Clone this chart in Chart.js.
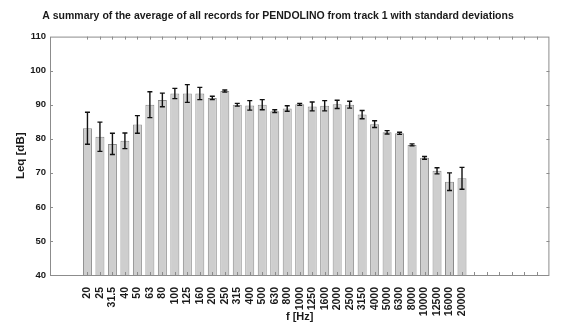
<!DOCTYPE html>
<html>
<head>
<meta charset="utf-8">
<script src="https://cdn.jsdelivr.net/npm/chart.js@4.4.1/dist/chart.umd.min.js"></script>
<style>
  html, body { margin: 0; padding: 0; background: #fff; }
  #wrap { width: 566px; height: 324px; }
</style>
</head>
<body>
<div id="wrap"><canvas id="leqChart" width="566" height="324"></canvas></div>
<script>
// Third-octave bands (Hz)
const freqLabels = ['20', '25', '31.5', '40', '50', '63', '80', '100', '125', '160', '200', '250', '315',
    '400', '500', '630', '800', '1000', '1250', '1600', '2000', '2500', '3150', '4000', '5000', '6300',
    '8000', '10000', '12500', '16000', '20000'];

// Average Leq per band (dB)
const leqMean = [83.1, 80.6, 78.5, 79.4, 84.2, 90.0, 91.4, 93.3, 93.3, 93.3, 92.0, 94.0, 90.0,
    89.8, 90.0, 88.1, 88.9, 90.1, 89.5, 89.7, 90.1, 90.0, 87.1, 84.3, 81.9, 81.6,
    78.2, 74.4, 70.6, 67.4, 68.4];

// Standard deviation per band (dB)
const leqStd = [4.7, 4.3, 3.1, 2.3, 2.6, 3.8, 2.0, 1.5, 2.6, 1.8, 0.5, 0.3, 0.4,
    1.4, 1.5, 0.4, 0.8, 0.3, 1.3, 1.5, 1.2, 1.0, 1.2, 1.0, 0.5, 0.3,
    0.3, 0.4, 0.9, 2.6, 3.2];

const yTicks = [40, 50, 60, 70, 80, 90, 100, 110];

// empty slots left and right of the bands, like the original x limits
const padLeft = 3;
const padRight = 7;

document.addEventListener('DOMContentLoaded', function() {
    const blank = n => Array(n).fill('');
    const empty = n => Array(n).fill(null);
    const labels = blank(padLeft).concat(freqLabels, blank(padRight));
    const values = empty(padLeft).concat(leqMean, empty(padRight));
    const errors = empty(padLeft).concat(leqStd, empty(padRight));
    const fontFamily = 'Liberation Sans, Arial, sans-serif';

    // frame + inward tick marks
    const boxPlugin = {
        id: 'box',
        afterDraw(chart) {
            const {ctx, chartArea: a, scales: {x, y}} = chart;
            ctx.save();
            ctx.strokeStyle = '#8c8c8c';
            ctx.lineWidth = 1;
            ctx.strokeRect(a.left + 0.5, a.top + 0.5, a.right - a.left - 1, a.bottom - a.top);
            ctx.beginPath();
            for (let i = padLeft; i < labels.length - 1; i++) {
                const px = Math.round(x.getPixelForValue(i)) + 0.5;
                ctx.moveTo(px, a.bottom); ctx.lineTo(px, a.bottom - 3);
                ctx.moveTo(px, a.top); ctx.lineTo(px, a.top + 3);
            }
            yTicks.slice(1, -1).forEach(v => {
                const py = Math.round(y.getPixelForValue(v)) + 0.5;
                ctx.moveTo(a.left, py); ctx.lineTo(a.left + 3, py);
                ctx.moveTo(a.right, py); ctx.lineTo(a.right - 3, py);
            });
            ctx.stroke();
            ctx.restore();
        }
    };

    // standard deviation whiskers
    const errorPlugin = {
        id: 'errorBars',
        afterDatasetsDraw(chart) {
            const {ctx, scales: {y}} = chart;
            const meta = chart.getDatasetMeta(0);
            ctx.save();
            ctx.strokeStyle = '#111';
            ctx.lineWidth = 1.4;
            meta.data.forEach((bar, i) => {
                if (values[i] === null) return;
                const top = y.getPixelForValue(values[i] + errors[i]);
                const bot = y.getPixelForValue(values[i] - errors[i]);
                ctx.beginPath();
                ctx.moveTo(bar.x, top); ctx.lineTo(bar.x, bot);
                ctx.moveTo(bar.x - 2.5, top); ctx.lineTo(bar.x + 2.5, top);
                ctx.moveTo(bar.x - 2.5, bot); ctx.lineTo(bar.x + 2.5, bot);
                ctx.stroke();
            });
            ctx.restore();
        }
    };

    const ctx = document.getElementById('leqChart').getContext('2d');
    new Chart(ctx, {
        type: 'bar',
        data: {
            labels: labels,
            datasets: [{
                data: values,
                base: 40,
                backgroundColor: '#cecece',
                borderColor: '#8a8a8a',
                borderWidth: 1,
                barPercentage: 0.72,
                categoryPercentage: 1
            }]
        },
        options: {
            responsive: false,
            animation: false,
            layout: { padding: { left: 0, right: 10, top: 0, bottom: 0 } },
            plugins: {
                legend: { display: false },
                tooltip: { enabled: false },
                title: {
                    display: true,
                    text: 'A summary of the average of all records for PENDOLINO from track 1 with standard deviations',
                    color: '#1a1a1a',
                    font: { family: fontFamily, size: 10.5, weight: 'bold' },
                    padding: { top: 10, bottom: 14 }
                }
            },
            scales: {
                x: {
                    offset: false,
                    grid: { display: false },
                    border: { display: false },
                    ticks: {
                        autoSkip: false,
                        minRotation: 90,
                        maxRotation: 90,
                        padding: 4,
                        color: '#1a1a1a',
                        font: { family: fontFamily, size: 10.5, weight: 'bold' }
                    },
                    title: {
                        display: true,
                        text: 'f [Hz]',
                        color: '#1a1a1a',
                        font: { family: fontFamily, size: 11, weight: 'bold' },
                        padding: { top: 0, bottom: 0 }
                    },
                    afterFit(scale) { scale.height = 49; }
                },
                y: {
                    min: 40,
                    max: 110,
                    grid: { display: false, drawTicks: false },
                    border: { display: false },
                    ticks: {
                        stepSize: 10,
                        padding: 4,
                        color: '#1a1a1a',
                        font: { family: fontFamily, size: 9.5, weight: 'bold' }
                    },
                    title: {
                        display: true,
                        text: 'Leq [dB]',
                        color: '#1a1a1a',
                        font: { family: fontFamily, size: 11.5, weight: 'bold' },
                        padding: { top: 14, bottom: 0 }
                    },
                    afterFit(scale) { scale.width = 50; }
                }
            }
        },
        plugins: [boxPlugin, errorPlugin]
    });
});
</script>
</body>
</html>
